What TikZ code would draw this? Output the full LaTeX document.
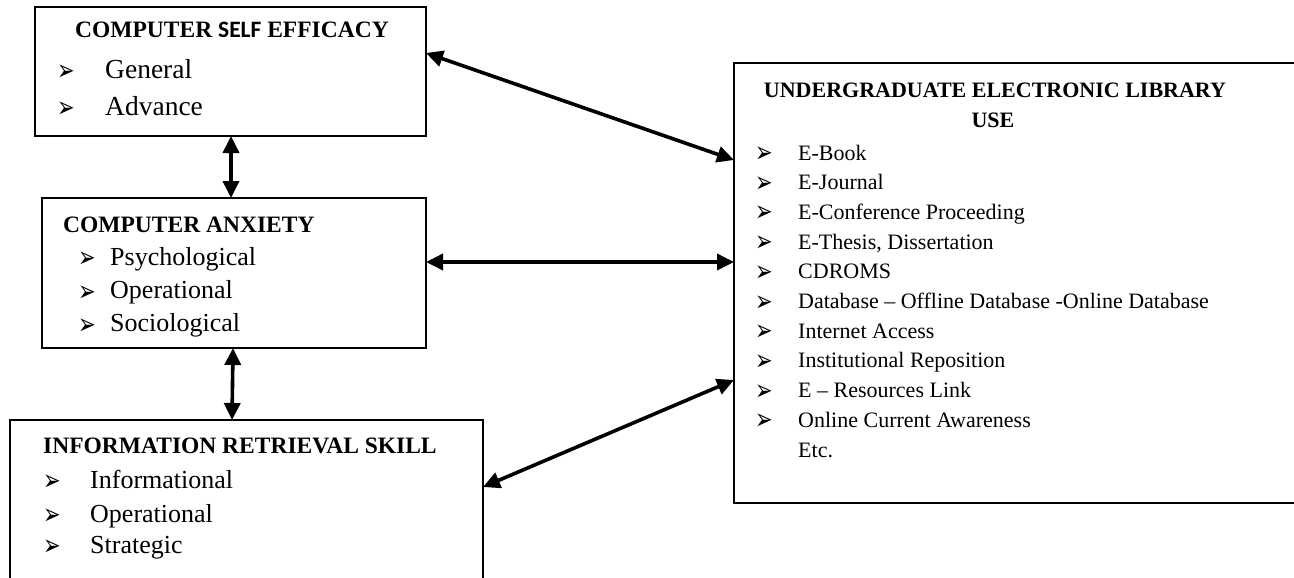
\documentclass[tikz,border=0pt]{standalone}
\usepackage{fontspec}
\setmainfont{Liberation Serif}
\newfontfamily\dingfont{DejaVu Sans Bold}
\newfontfamily\calfont{Carlito}
\usetikzlibrary{arrows.meta}

\newcommand{\bul}{\raisebox{-2.5pt}{\scalebox{1}[1.4]{\dingfont\fontsize{21}{21}\selectfont ➢}}}

\begin{document}
\begin{tikzpicture}[x=1pt,y=-1pt,
    box/.style={draw,line width=1.8pt,anchor=north west,inner sep=0,outer sep=0},
    title/.style={anchor=base west,inner sep=0,font=\fontsize{23.5}{26}\selectfont\bfseries},
    item/.style={anchor=base west,inner sep=0,font=\fontsize{26}{28}\selectfont},
    bigitem/.style={item,font=\fontsize{27.5}{30}\selectfont},
    libitem/.style={item,font=\fontsize{22}{24}\selectfont},
    bullet/.style={anchor=base west,inner sep=0},
    link/.style={{Triangle[length=17pt,width=16pt]}-{Triangle[length=17pt,width=16pt]},
                 line width=3.6pt}]
  \useasboundingbox (0,0) rectangle (1294,578);

  % boxes
  \node[box,minimum width=391pt,minimum height=129pt] (cse)  at (35,7)   {};
  \node[box,minimum width=384pt,minimum height=150pt] (anx)  at (42,198) {};
  \node[box,minimum width=473pt,minimum height=200pt] (irs)  at (10,420) {};
  \node[box,minimum width=580pt,minimum height=440pt] (ulib) at (734,63) {};

  % computer self efficacy
  \node[title] (cse-t) at (75,38) {COMPUTER {\calfont SELF} EFFICACY};
  \node[bullet] (cse-b1) at (57,78)  {\bul};
  \node[bigitem] (cse-1) at (105,78)  {General};
  \node[bullet] (cse-b2) at (57,115) {\bul};
  \node[bigitem] (cse-2) at (105,115) {Advance};

  % computer anxiety
  \node[title] (anx-t) at (63,232) {COMPUTER ANXIETY};
  \foreach \txt [count=\n] in {Psychological,Operational,Sociological} {
    \node[bullet] (anx-b\n) at (78,232+33.3*\n) {\bul};
    \node[item] (anx-\n) at (110,232+33.3*\n) {\txt};
  }

  % information retrieval skill
  \node[title] (irs-t) at (43,453) {INFORMATION RETRIEVAL SKILL};
  \foreach \txt/\yy [count=\n] in {Informational/488,Operational/522,Strategic/553} {
    \node[bullet] (irs-b\n) at (43,\yy) {\bul};
    \node[item] (irs-\n) at (90,\yy) {\txt};
  }

  % undergraduate electronic library use
  \node[title,anchor=base,font=\fontsize{22}{24}\selectfont\bfseries] (ulib-t1) at (995,97)
    {UNDERGRADUATE ELECTRONIC LIBRARY};
  \node[title,anchor=base,font=\fontsize{22}{24}\selectfont\bfseries] (ulib-t2) at (993,128) {USE};
  \foreach \txt [count=\n] in {E-Book,E-Journal,E-Conference Proceeding,
      {E-Thesis, Dissertation},CDROMS,Database – Offline Database -Online Database,
      Internet Access,Institutional Reposition,E – Resources Link,Online Current Awareness} {
    \node[bullet] (ulib-b\n) at (755,130.3+29.7*\n) {\bul};
    \node[libitem] (ulib-\n) at (798,130.3+29.7*\n) {\txt};
  }
  \node[libitem] (ulib-etc) at (798,457) {Etc.};

  % links
  \draw[link] ([yshift=-46pt]cse.north east) -- ([yshift=-97pt]ulib.north west);
  \draw[link] ([yshift=-64pt]anx.north east) coordinate (m) -- (m -| ulib.west);
  \draw[link] ([yshift=-67pt]irs.north east) -- ([yshift=-317pt]ulib.north west);
  \draw[link] ([xshift=196pt]cse.south west) -- ([xshift=189pt]anx.north west);
  \draw[link] ([xshift=191pt]anx.south west) -- ([xshift=222pt]irs.north west);
\end{tikzpicture}
\end{document}
